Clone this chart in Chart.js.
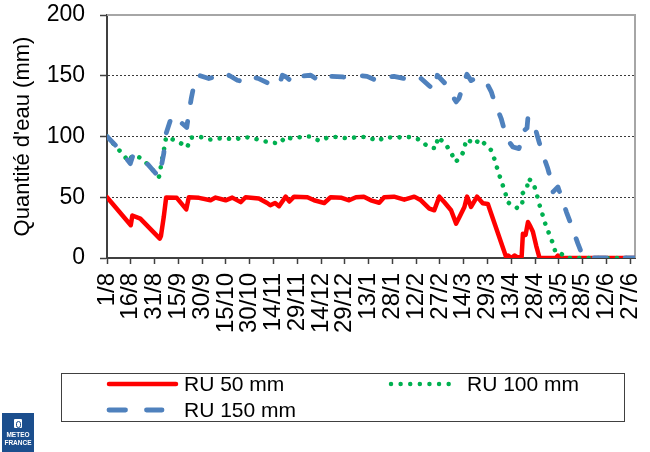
<!DOCTYPE html>
<html>
<head>
<meta charset="utf-8">
<script src="https://cdn.jsdelivr.net/npm/chart.js@4.4.1/dist/chart.umd.min.js"></script>
<style>
  html, body { margin: 0; padding: 0; background: #fff; }
  #wrap { position: relative; width: 650px; height: 452px; overflow: hidden; font-family: "Liberation Sans", Arial, sans-serif; }
  #c { position: absolute; left: 0; top: 0; }
  #legendBox { position: absolute; left: 61px; top: 373px; width: 564px; height: 49px; border: 1px solid #404040; box-sizing: border-box; }
  .lt { position: absolute; font-size: 21px; line-height: 24px; color: #000; white-space: nowrap; }
  #legendSvg { position: absolute; left: 0; top: 0; }
  #logo { position: absolute; left: 2px; top: 413px; width: 32px; height: 39px; background: #1b4e8d; color: #fff; text-align: center; font-family: "Liberation Sans", Arial, sans-serif; font-weight: bold; }
  #logo .ic { position: absolute; left: 12px; top: 6px; width: 8px; height: 9px; background: #fff; border-radius: 1px; }
  #logo .ic::after { content: ""; position: absolute; left: 2px; top: 1.5px; width: 3px; height: 5px; border: 1px solid #1b4e8d; border-radius: 3px; }
  #logo .t1 { position: absolute; left: 0; width: 32px; top: 18px; font-size: 6.5px; line-height: 7px; }
  #logo .t2 { position: absolute; left: 0; width: 32px; top: 26px; font-size: 6.5px; line-height: 7px; }
</style>
</head>
<body>
<div id="wrap">
  <canvas id="c" width="650" height="452"></canvas>
  <div id="legendBox"></div>
  <svg id="legendSvg" width="650" height="452">
    <line x1="109" y1="384" x2="176" y2="384" stroke="#ff0000" stroke-width="4.5" stroke-linecap="round"/>
    <line x1="391" y1="384" x2="458" y2="384" stroke="#00b050" stroke-width="4.5" stroke-linecap="round" stroke-dasharray="0.01 9.6"/>
    <line x1="109" y1="410" x2="125.5" y2="410" stroke="#4f81bd" stroke-width="4.8" stroke-linecap="round"/>
    <line x1="146.5" y1="410" x2="162" y2="410" stroke="#4f81bd" stroke-width="4.8" stroke-linecap="round"/>
  </svg>
  <span class="lt" style="left:184px; top:372px;">RU 50 mm</span>
  <span class="lt" style="left:467px; top:372px;">RU 100 mm</span>
  <span class="lt" style="left:184px; top:398px;">RU 150 mm</span>
  <div id="logo"><div class="ic"></div><div class="t1">METEO</div><div class="t2">FRANCE</div></div>
</div>
<script>
// Tick labels (every 15 days from 1/8)
const tickLabels = ["1/8","16/8","31/8","15/9","30/9","15/10","30/10","14/11","29/11","14/12","29/12","13/1","28/1","12/2","27/2","14/3","29/3","13/4","28/4","13/5","28/5","12/6","27/6"];
const lastDay = 333; // 30/6

// RU 50 mm (day index from 1/8, value in mm)
const ru50Days = [0, 15, 16, 21, 33.3, 34, 35.8, 37.3, 44, 50, 51.6, 58, 65.3, 68.5, 74.8, 79, 84.3, 87.4, 95.8, 101, 103, 106, 108.5, 112.7, 115, 118, 126.4, 130.6, 137, 141, 148, 152.7, 157, 162, 166.4, 171.7, 174.8, 181, 187.5, 193.8, 198, 203.3, 206.4, 209.6, 212.8, 217, 220.2, 222.3, 225.4, 227.1, 229.6, 233.4, 237, 240.2, 251.8, 253, 255, 257, 259, 261.5, 262.3, 264, 265.5, 267, 268.6, 270.7, 272.8, 283, 284.4, 286, 333];
const ru50Values = [50, 27, 35, 32.4, 16, 18, 33.8, 49.7, 49.5, 40, 50, 49.5, 47.5, 49.7, 47.5, 49.7, 46, 50, 49, 45.3, 43.4, 45.3, 42.6, 50.5, 46.5, 50.5, 50, 47.5, 45.3, 50, 49.5, 47.5, 50, 50.5, 47.5, 45.5, 50, 50.5, 48, 50.5, 47.5, 40.6, 39.3, 50.5, 45.9, 39.3, 28.3, 33.8, 42, 50.5, 42, 50.5, 45, 44.4, 0.5, 2, 0, 2, 0.5, 1, 20, 19, 29.6, 26, 21.6, 10, 0, 0, 2, 0, 0];

// RU 100 mm
const ru100Days = [0, 9.5, 13.7, 16.2, 20.6, 25.9, 29, 32.7, 33.3, 34.3, 35.4, 37.3, 40, 45.3, 50.6, 52.7, 59, 64.9, 70.5, 75.8, 81.1, 85.3, 91.2, 98, 103.7, 109, 112.7, 115.9, 122, 128, 134, 139.7, 145.6, 152.3, 158, 164.3, 170.7, 175.5, 180.8, 186.6, 191.7, 197.6, 202.7, 207.7, 208.5, 213.2, 217, 219.8, 222.7, 225.4, 226.3, 229.6, 232, 234.9, 238.7, 242.3, 244.6, 246.5, 248.6, 250.9, 252.8, 255.6, 259.8, 261.9, 262.3, 264.9, 265.5, 268.6, 270.7, 272.4, 274.5, 276.4, 278.8, 281.3, 282.9, 285.5, 289.7, 333];
const ru100Values = [100, 86, 79.6, 84.5, 82.7, 76.9, 72.2, 66.7, 69, 78.5, 85.4, 99.5, 98.3, 95.5, 91, 99, 99.6, 97.5, 98.5, 98.3, 97.5, 99.5, 99, 96.4, 95, 94.3, 100, 98.5, 99.5, 100, 96.4, 99.5, 99.6, 98.3, 99.6, 99.5, 96.4, 99.5, 99, 99.5, 99.5, 97.2, 91.2, 90.3, 99.6, 94.4, 86.8, 79, 82.7, 88.7, 97.5, 95.8, 93.6, 97.8, 93.4, 88.7, 80.5, 72, 63.6, 55, 46, 42.8, 40.7, 44.8, 53.5, 56.3, 65.4, 62.6, 54.4, 45.3, 36.5, 28.3, 20, 11.8, 4.5, 4.5, 0, 0];

// RU 150 mm
const ru150Days = [0, 7.4, 14.7, 16.4, 20.6, 25.9, 29, 32.7, 33.3, 35.8, 36.9, 40, 42.1, 46.3, 50.3, 51.6, 53.1, 55.8, 58, 64.2, 69, 74.8, 76.9, 82.2, 85, 88, 91.7, 96, 102, 104, 108.5, 110.6, 113, 115.9, 117, 121, 128.5, 131.7, 138, 141, 148.5, 153, 158, 164, 169.6, 172.8, 175.9, 181, 187.5, 192.8, 197, 203, 206.4, 208.3, 213, 217, 220.2, 222, 225.4, 227, 229.6, 231, 233.9, 238, 240.2, 242.3, 244.4, 248.6, 250.7, 252.8, 256, 259.8, 261.2, 262.3, 264.9, 265.5, 268.6, 270.7, 272.4, 274.3, 278, 280, 281.3, 284.4, 289.7, 292.9, 295, 297, 300.3, 301, 333];
const ru150Values = [100, 90, 77.7, 84.6, 82.7, 76.9, 72.2, 66.7, 69, 86, 101, 113.4, 117.5, 112, 107.5, 118.9, 131, 148.5, 150.4, 147.7, 149.5, 147.7, 150.4, 146.3, 145.5, 149.5, 149, 147.5, 143.6, 143, 142, 150.4, 149, 145.8, 150, 149.5, 150.4, 147.7, 145.8, 149.5, 149, 148.5, 150.4, 149.5, 146.3, 146.3, 148.5, 149.5, 147.7, 150.4, 149, 142, 138.2, 150.4, 144, 135.4, 128.5, 131.5, 145, 151.3, 146, 147, 148.5, 143.6, 142.2, 137, 128.5, 114.8, 105, 97, 91.4, 90, 96, 104, 107, 116, 111, 103.8, 96, 87.3, 73.6, 64, 54.4, 58.5, 38, 27, 19, 11.8, 0.8, 0, 0];

const yTicks = [0, 50, 100, 150, 200];

function pts(days, vals) { return days.map((d, i) => ({ x: d, y: vals[i] })); }

const FONT = '"Liberation Sans", Arial, sans-serif';

function noPad(s) { s.paddingTop = 0; s.paddingBottom = 0; s.paddingLeft = 0; s.paddingRight = 0; }

const framePlugin = {
  id: 'frame',
  beforeDatasetsDraw(chart) {
    const { ctx, chartArea: a } = chart;
    ctx.save();
    ctx.strokeStyle = '#a6a6a6';
    ctx.lineWidth = 2;
    ctx.beginPath();
    ctx.moveTo(a.left, a.top);
    ctx.lineTo(a.right, a.top);
    ctx.lineTo(a.right, a.bottom);
    ctx.stroke();
    ctx.restore();
  }
};

new Chart(document.getElementById('c'), {
  type: 'line',
  data: {
    datasets: [
      { label: 'RU 150 mm', data: pts(ru150Days, ru150Values), borderColor: '#4f81bd', borderWidth: 4.8, borderDash: [12, 19], borderCapStyle: 'round', borderJoinStyle: 'round', pointRadius: 0, tension: 0, order: 1 },
      { label: 'RU 100 mm', data: pts(ru100Days, ru100Values), borderColor: '#00b050', borderWidth: 4.6, borderDash: [0.01, 9.4], borderCapStyle: 'round', borderJoinStyle: 'round', pointRadius: 0, tension: 0, order: 2 },
      { label: 'RU 50 mm', data: pts(ru50Days, ru50Values), borderColor: '#ff0000', borderWidth: 4.5, borderCapStyle: 'round', borderJoinStyle: 'round', pointRadius: 0, tension: 0, order: 3 }
    ]
  },
  options: {
    responsive: false,
    animation: false,
    devicePixelRatio: 1,
    layout: { padding: { top: 15, right: 15, bottom: 104, left: 0 } },
    plugins: { legend: { display: false }, tooltip: { enabled: false } },
    scales: {
      x: {
        type: 'linear',
        min: 0,
        max: lastDay,
        afterBuildTicks: (s) => { s.ticks = tickLabels.map((_, i) => ({ value: i * 15 })); },
        afterFit: (s) => { s.height = 90; noPad(s); },
        ticks: {
          autoSkip: false,
          minRotation: 90,
          maxRotation: 90,
          padding: 9,
          color: '#000',
          font: { family: FONT, size: 24 },
          callback: (v) => tickLabels[Math.round(v / 15)]
        },
        grid: { drawOnChartArea: false, drawTicks: true, tickLength: 6, tickColor: '#404040', tickWidth: 1.5 },
        border: { color: '#404040', width: 2 }
      },
      y: {
        min: 0,
        max: 200,
        afterBuildTicks: (s) => { s.ticks = yTicks.map(v => ({ value: v })); },
        afterFit: (s) => { s.width = 107; noPad(s); },
        ticks: { padding: 15, color: '#000', font: { family: FONT, size: 23 } },
        grid: {
          color: (ctx) => (ctx.tick && ctx.tick.value > 0 && ctx.tick.value < 200) ? '#3a3a3a' : 'rgba(0,0,0,0)',
          lineWidth: 1,
          drawTicks: true,
          tickLength: 7,
          tickColor: '#404040',
          tickWidth: 1.5
        },
        border: { color: '#404040', width: 2, dash: [2, 2] },
        title: { display: true, text: "Quantité d'eau (mm)", color: '#000', font: { family: FONT, size: 22 }, padding: { top: 10, bottom: 0 } }
      }
    }
  },
  plugins: [framePlugin]
});
</script>
</body>
</html>
